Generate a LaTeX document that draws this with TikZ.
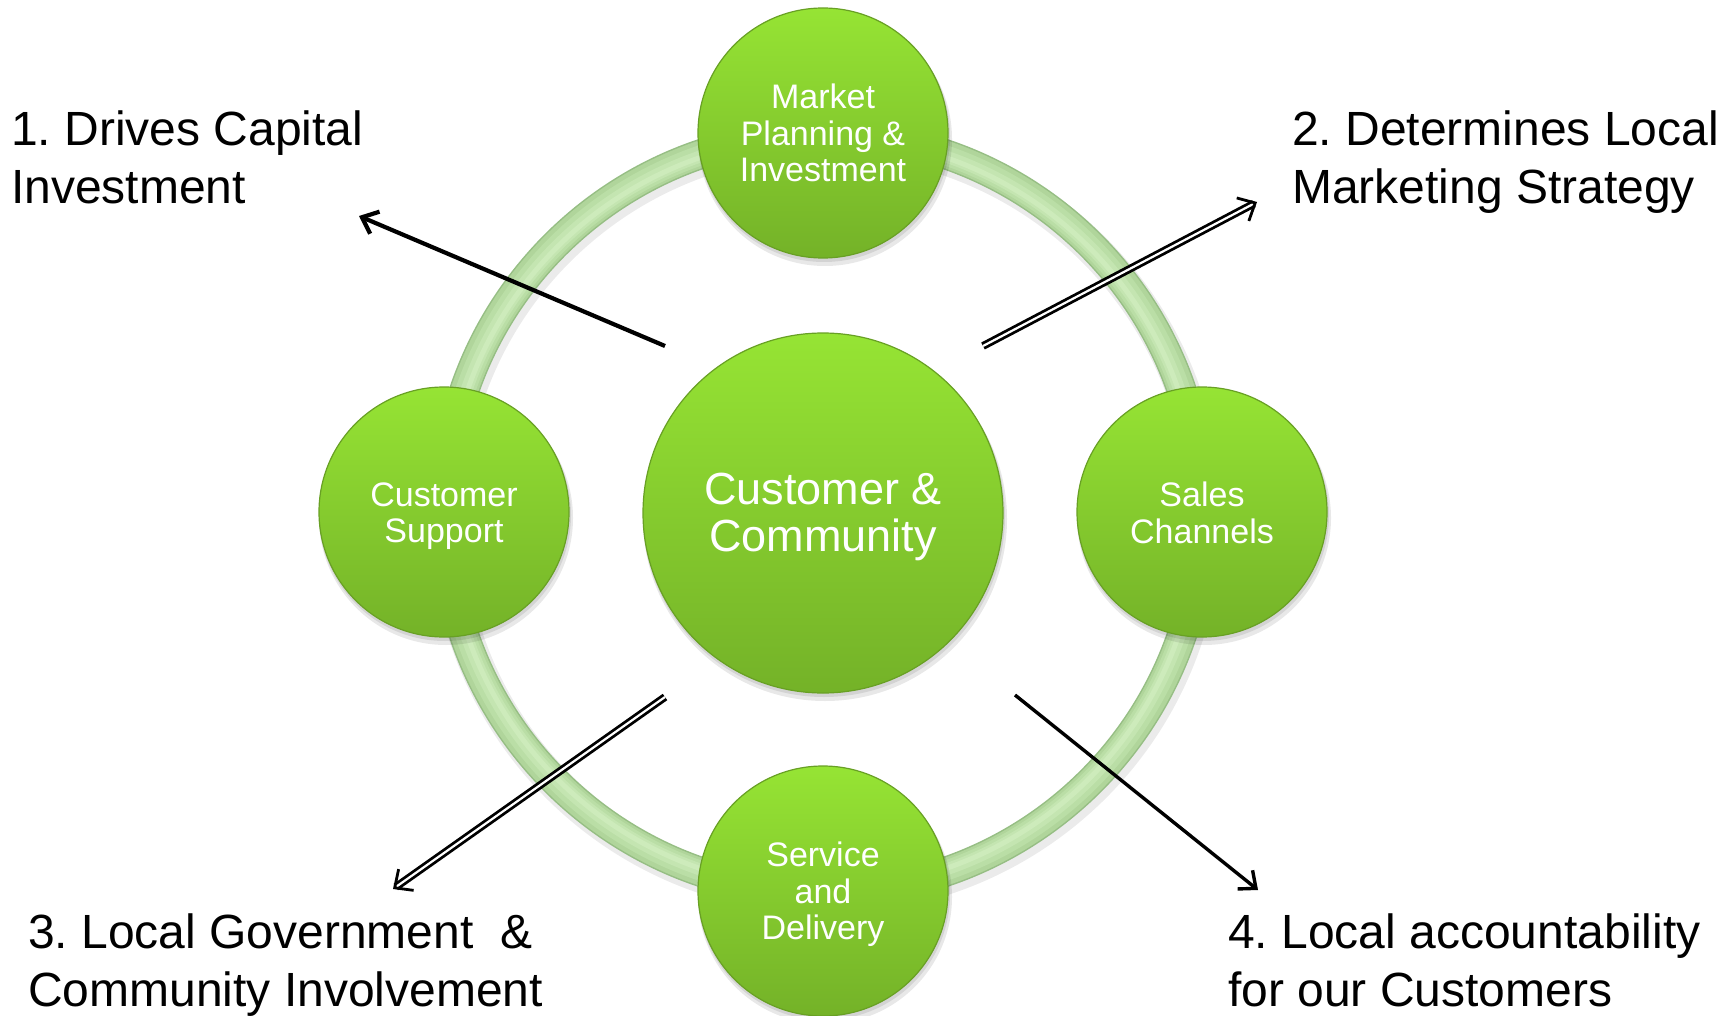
\documentclass[tikz,border=0pt]{standalone}
\usepackage{fontspec}
\setmainfont{Liberation Sans}
\usetikzlibrary{arrows.meta}
\definecolor{ring1}{RGB}{150,190,132}
\definecolor{ring2}{RGB}{176,213,155}
\definecolor{ring3}{RGB}{186,222,166}
\definecolor{ring4}{RGB}{196,229,177}
\definecolor{ring5}{RGB}{205,235,187}
\definecolor{gtop}{RGB}{150,228,52}
\definecolor{gbot}{RGB}{116,178,40}
\definecolor{grim}{RGB}{104,160,36}
\frenchspacing
\newcommand{\lowerby}[1]{\rule{0pt}{#1}}
\begin{document}
\begin{tikzpicture}[x=1pt,y=-1pt,
  bubble/.style={circle, minimum size=250pt, inner sep=0pt, top color=gtop, bottom color=gbot,
    draw=grim, line width=1.2pt, text=white, align=center, font=\fontsize{34}{36.5}\selectfont},
  hub/.style={bubble, minimum size=360pt, font=\fontsize{45}{46.5}\selectfont},
  cornertext/.style={anchor=north west, inner sep=0pt, align=left, text=black,
    font=\fontsize{48}{58}\selectfont},
  softshadow/.style={fill=black, opacity=0.09},
  thinarrow/.style={-{Straight Barb[length=14pt,width=24pt]}, line width=4.2pt, black},
  dblarrow/.style={-{Straight Barb[length=14pt,width=26pt]}, double=white, double distance=2.2pt, line width=2.8pt, black}
]
\useasboundingbox (0,0) rectangle (1736,1016);
% centers
\coordinate (cc) at (823,513);
\coordinate (ct) at (823,133);
\coordinate (cl) at (444,512);
\coordinate (cr) at (1202,512);
\coordinate (cb) at (823,891);
% ring
\draw[gray!35, line width=34pt, opacity=0.45] ([shift={(3,5)}]cc) circle[radius=379pt];
\draw[ring1, line width=30pt] (cc) circle[radius=379pt];
\draw[ring2, line width=27pt] (cc) circle[radius=379pt];
\draw[ring3, line width=20pt] (cc) circle[radius=378pt];
\draw[ring4, line width=12pt] (cc) circle[radius=377pt];
\draw[ring5, line width=5pt] (cc) circle[radius=376pt];
% shadows
\foreach \p/\r in {ct/125,cl/125,cr/125,cb/125,cc/180}{
  \fill[softshadow] ([shift={(2,6)}]\p) circle[radius=\r pt+2pt];
  \fill[softshadow] ([shift={(1,3)}]\p) circle[radius=\r pt+1pt];
}
% nodes
\node[hub] (hub) at (cc) {\lowerby{39pt}Customer \&\\Community};
\node[bubble] (mkt) at (ct) {Market\\Planning \&\\Investment};
\node[bubble] (sup) at (cl) {\lowerby{32pt}Customer\\Support};
\node[bubble] (sal) at (cr) {\lowerby{26pt}Sales\\Channels};
\node[bubble] (svc) at (cb) {\lowerby{32pt}Service\\and\\Delivery};
% labels
\node[cornertext] (l1) at (11,111) {1. Drives Capital\\Investment};
\node[cornertext] (l2) at (1292,111) {2. Determines Local\\Marketing Strategy};
\node[cornertext] (l3) at (28,914) {3. Local Government \ \&\\Community Involvement};
\node[cornertext] (l4) at (1228,914) {4. Local accountability\\for our Customers};
% arrows
\coordinate (a1s) at (665,346);
\coordinate (a1e) at (359,216);
\coordinate (a2s) at (983,346);
\coordinate (a2e) at (1257,202);
\coordinate (a3s) at (665,697);
\coordinate (a3e) at (393,889);
\coordinate (a4s) at (1015,695);
\coordinate (a4e) at (1258,890);
\draw[thinarrow] (a1s) -- (a1e);
\draw[dblarrow] (a2s) -- (a2e);
\draw[dblarrow] (a3s) -- (a3e);
\draw[thinarrow, line width=3.4pt] (a4s) -- (a4e);
\end{tikzpicture}
\end{document}
